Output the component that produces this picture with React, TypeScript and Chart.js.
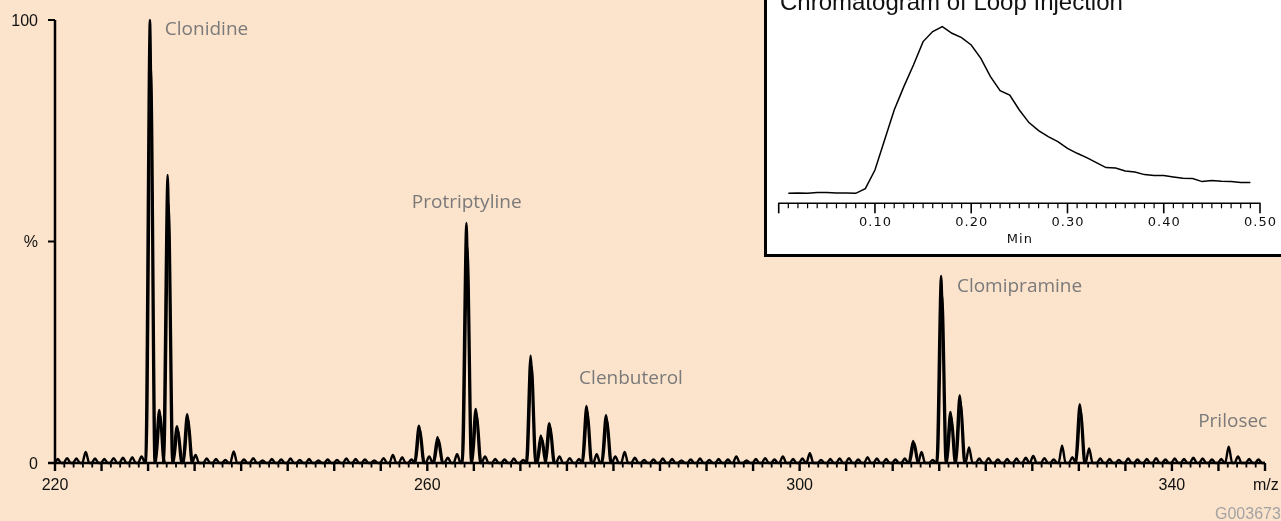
import React, { useEffect, useRef } from "react";
import { Chart, registerables } from "chart.js";

Chart.register(...registerables);

// ---------- main spectrum data ----------
const peakMz = [
  223.3, 229.3, 230.2, 231.2, 232.1, 233.1, 234.2, 235.1, 239.2,
  256.3, 259.1, 260.2, 261.1, 262.2, 263.2, 264.2, 265.2, 266.2,
  271.1, 272.2, 273.1, 274.2, 277.1, 278.2, 279.2, 280.2, 281.2,
  293.2, 298.2, 301.1, 312.2, 313.1, 315.2, 316.2, 317.2, 318.2,
  325.1, 328.2, 330.1, 331.1, 346.1, 347.1,
];
const peakPct = [
  2.5, 1.5, 100, 12, 65, 8.3, 11, 1.8, 2.6,
  1.8, 8.4, 1.5, 5.9, 1.2, 2.0, 54.2, 12.2, 1.5,
  24.2, 6.2, 9.0, 1.5, 12.9, 2.0, 10.8, 1.5, 2.5,
  1.5, 1.5, 2.2, 5.0, 2.5, 42.2, 11.5, 15.3, 3.5,
  1.6, 3.9, 13.3, 3.3, 3.7, 1.5,
];
const noiseStart = 220;
const noisePct = [
  0.9, 1.1, 1.0, 0.8, 1.0, 0.9, 1.1, 1.2, 1.3, 0.7,
  0.6, 0.8, 0.7, 0.9, 0.8, 0.6, 1.0, 0.9, 0.7, 1.0,
  0.8, 1.1, 0.6, 0.9, 0.8, 1.0, 0.7, 0.9, 0.6, 0.8,
  0.7, 1.0, 0.9, 0.8, 0.6, 1.1, 0.9, 1.3, 0.8, 1.0,
  0.9, 0.7, 1.0, 0.8, 1.2, 1.0, 1.1, 0.9, 0.8, 1.0,
  0.7, 0.9, 1.0, 0.6, 0.8, 1.1, 0.9, 0.7, 1.0, 0.8,
  0.9, 1.0, 1.2, 0.7, 0.8, 1.0, 0.9, 0.6, 0.8, 1.0,
  0.7, 0.9, 0.8, 1.0, 0.6, 0.9, 1.1, 0.8, 1.2, 0.9,
  1.0, 0.8, 0.7, 0.9, 1.0, 1.1, 0.8, 1.3, 1.0, 0.9,
  0.8, 1.0, 0.9, 1.1, 0.7, 0.9, 1.0, 0.8, 0.9, 1.0,
  1.1, 0.8, 0.9, 1.0, 1.2, 0.9, 1.1, 0.8, 1.0, 1.3,
  0.9, 0.8, 1.0, 0.9, 0.7, 1.0, 0.8, 0.9, 1.1, 0.8,
  1.0, 0.9, 1.2, 1.0, 0.8, 0.9, 1.0, 1.1, 0.9, 0.8,
];

const xTickLabels = [220, 260, 300, 340];
const yTickVals = [100, 50, 0];
const yTickText = ["100", "%", "0"];

const compoundNames = ["Clonidine", "Protriptyline", "Clenbuterol", "Clomipramine", "Prilosec"];
const compoundMz = [231.8, 258.33, 276.31, 316.9, 342.82];
const compoundPct = [96.6, 57.6, 17.8, 38.6, 8.2];

// ---------- inset chromatogram data ----------
const insetTime = [
  0.01, 0.02, 0.03, 0.04, 0.05, 0.06, 0.07, 0.08, 0.09, 0.10,
  0.11, 0.12, 0.13, 0.14, 0.15, 0.16, 0.17, 0.18, 0.19, 0.20,
  0.21, 0.22, 0.23, 0.24, 0.25, 0.26, 0.27, 0.28, 0.29, 0.30,
  0.31, 0.32, 0.33, 0.34, 0.35, 0.36, 0.37, 0.38, 0.39, 0.40,
  0.41, 0.42, 0.43, 0.44, 0.45, 0.46, 0.47, 0.48, 0.49,
];
const insetSignal = [
  10, 10.3, 10, 10.7, 10.7, 10.3, 10.3, 10, 14.7, 33.3,
  63.3, 93.3, 116.7, 138.3, 161.7, 171.7, 176.7, 170, 165.7, 158.3,
  145, 126.7, 112.7, 108.3, 93.3, 80.7, 72.7, 66.7, 61.7, 55,
  50, 45.7, 40.7, 35.7, 35.3, 32.3, 31.3, 28.7, 27.7, 27.7,
  26.3, 25, 24.7, 21.7, 22.7, 22, 21.7, 20.7, 20.7,
];
const insetTickLabels = ["0.10", "0.20", "0.30", "0.40", "0.50"];

const BG = "#fce3cb";
const AXIS_FONT = '"Liberation Sans", Arial, Helvetica, sans-serif';

function buildProfile(shift: number, scale: number, minH: number) {
  const items: { m: number; h: number }[] = [];
  peakMz.forEach((m, i) => {
    if (peakPct[i] >= minH) items.push({ m, h: peakPct[i] });
  });
  if (minH === 0) {
    noisePct.forEach((h, i) => {
      const m = noiseStart + i + 0.3;
      if (m > 349.9) return;
      if (!peakMz.some((p) => Math.abs(p - m) < 0.8)) items.push({ m, h });
    });
  }
  items.sort((a, b) => a.m - b.m);
  const pts: { x: number; y: number }[] = [{ x: 220, y: 0 }];
  items.forEach(({ m, h }) => {
    const w = h > 4 ? 0.5 : 0.38;
    const c = m + shift;
    pts.push({ x: c - w, y: 0 }, { x: c, y: h * scale }, { x: c + w, y: 0 });
  });
  pts.push({ x: 350, y: 0 });
  return pts;
}

const mainAxes = {
  id: "mainAxes",
  afterDraw(chart: any) {
    const { ctx, scales } = chart;
    const x = scales.x;
    const y = scales.y;
    const x0 = x.getPixelForValue(220);
    const xEnd = x.getPixelForValue(350);
    const yBase = y.getPixelForValue(0);
    const yTop = y.getPixelForValue(100);
    ctx.save();
    ctx.strokeStyle = "#000";
    ctx.lineCap = "butt";
    ctx.lineWidth = 2.5;
    ctx.beginPath();
    ctx.moveTo(x0, yTop);
    ctx.lineTo(x0, yBase);
    ctx.stroke();
    ctx.beginPath();
    ctx.moveTo(x0 - 7, yBase);
    ctx.lineTo(xEnd, yBase);
    ctx.stroke();
    ctx.lineWidth = 2;
    yTickVals.forEach((v) => {
      const py = y.getPixelForValue(v);
      ctx.beginPath();
      ctx.moveTo(x0 - 7, py);
      ctx.lineTo(x0, py);
      ctx.stroke();
    });
    for (let v = 220; v <= 350; v++) {
      const px = x.getPixelForValue(v);
      const major = v % 5 === 0;
      ctx.lineWidth = major ? 2.4 : 1.8;
      ctx.beginPath();
      ctx.moveTo(px, yBase);
      ctx.lineTo(px, yBase + (major ? 8 : 4.5));
      ctx.stroke();
    }
    ctx.fillStyle = "#111";
    ctx.font = `16px ${AXIS_FONT}`;
    ctx.textBaseline = "middle";
    ctx.textAlign = "right";
    yTickVals.forEach((v, i) => {
      ctx.fillText(yTickText[i], 38, y.getPixelForValue(v) + 1.5);
    });
    ctx.textAlign = "center";
    xTickLabels.forEach((v) => {
      ctx.fillText(String(v), x.getPixelForValue(v), 486);
    });
    ctx.textAlign = "left";
    ctx.fillText("m/z", 1253, 486);
    ctx.fillStyle = "#a3a3a3";
    ctx.textBaseline = "alphabetic";
    ctx.fillText("G003673", 1215, 519);
    ctx.fillStyle = "#7a7a7a";
    ctx.font = '19px "Open Sans", "Noto Sans", sans-serif';
    compoundNames.forEach((n, i) => {
      ctx.fillText(n, x.getPixelForValue(compoundMz[i]), y.getPixelForValue(compoundPct[i]));
    });
    ctx.restore();
  },
};

const insetAxes = {
  id: "insetAxes",
  afterDraw(chart: any) {
    const { ctx, scales } = chart;
    const x = scales.x;
    const y = scales.y;
    const yAx = y.getPixelForValue(0);
    ctx.save();
    ctx.strokeStyle = "#000";
    ctx.lineWidth = 1.5;
    ctx.beginPath();
    ctx.moveTo(x.getPixelForValue(0) - 0.5, yAx);
    ctx.lineTo(x.getPixelForValue(0.5) + 0.5, yAx);
    ctx.stroke();
    for (let i = 0; i <= 50; i++) {
      const px = x.getPixelForValue(i / 100);
      const major = i % 10 === 0;
      ctx.lineWidth = major ? 1.6 : 1.2;
      ctx.beginPath();
      ctx.moveTo(px, yAx);
      ctx.lineTo(px, yAx + (major ? 10 : 5));
      ctx.stroke();
    }
    ctx.fillStyle = "#111";
    ctx.font = '13px "DejaVu Sans", sans-serif';
    (ctx as any).letterSpacing = "1px";
    ctx.textAlign = "center";
    ctx.textBaseline = "middle";
    insetTickLabels.forEach((t) => {
      ctx.fillText(t, x.getPixelForValue(parseFloat(t)) + 0.5, yAx + 19);
    });
    ctx.fillText("Min", x.getPixelForValue(0.25) + 0.5, yAx + 36);
    (ctx as any).letterSpacing = "0px";
    ctx.font = `24px ${AXIS_FONT}`;
    ctx.textAlign = "left";
    ctx.textBaseline = "alphabetic";
    ctx.fillText("Chromatogram of Loop Injection", 13, 10);
    ctx.restore();
  },
};

export default function App() {
  const mainRef = useRef<HTMLCanvasElement>(null);
  const insetRef = useRef<HTMLCanvasElement>(null);

  useEffect(() => {
    const lineStyle = {
      borderColor: "#000",
      pointRadius: 0,
      fill: false,
      cubicInterpolationMode: "monotone",
      clip: false,
    };
    const main = new Chart(mainRef.current as HTMLCanvasElement, {
      type: "line",
      data: {
        datasets: [
          { ...lineStyle, data: buildProfile(0, 1, 0), borderWidth: 2.4 } as any,
          { ...lineStyle, data: buildProfile(0.13, 0.9, 4), borderWidth: 2 } as any,
        ],
      },
      options: {
        animation: false,
        responsive: false,
        events: [],
        layout: { padding: { left: 55, right: 16, top: 20, bottom: 58 } },
        plugins: { legend: { display: false }, tooltip: { enabled: false } },
        scales: {
          x: { type: "linear", min: 220, max: 350, display: false },
          y: { type: "linear", min: 0, max: 100, display: false },
        },
      },
      plugins: [mainAxes],
    });

    const inset = new Chart(insetRef.current as HTMLCanvasElement, {
      type: "line",
      data: {
        datasets: [
          {
            data: insetTime.map((t, i) => ({ x: t, y: insetSignal[i] })),
            borderColor: "#000",
            borderWidth: 1.5,
            pointRadius: 0,
            fill: false,
            tension: 0,
            clip: false,
          } as any,
        ],
      },
      options: {
        animation: false,
        responsive: false,
        events: [],
        layout: { padding: { left: 11.7, right: 21, top: 23.3, bottom: 50.7 } },
        plugins: { legend: { display: false }, tooltip: { enabled: false } },
        scales: {
          x: { type: "linear", min: 0, max: 0.5, display: false },
          y: { type: "linear", min: 0, max: 180, display: false },
        },
      },
      plugins: [insetAxes],
    });

    return () => {
      main.destroy();
      inset.destroy();
    };
  }, []);

  return (
    <div
      style={{
        position: "fixed",
        left: 0,
        top: 0,
        width: 1281,
        height: 521,
        background: BG,
        overflow: "hidden",
      }}
    >
      <canvas
        ref={mainRef}
        width={1281}
        height={521}
        style={{ position: "absolute", left: 0, top: 0, width: 1281, height: 521 }}
      />
      <div
        style={{
          position: "absolute",
          left: 764,
          top: 0,
          width: 517,
          height: 257,
          boxSizing: "border-box",
          borderLeft: "3px solid #000",
          borderBottom: "3px solid #000",
          background: "#fff",
        }}
      >
        <canvas
          ref={insetRef}
          width={514}
          height={254}
          style={{ position: "absolute", left: 0, top: 0, width: 514, height: 254 }}
        />
      </div>
    </div>
  );
}
